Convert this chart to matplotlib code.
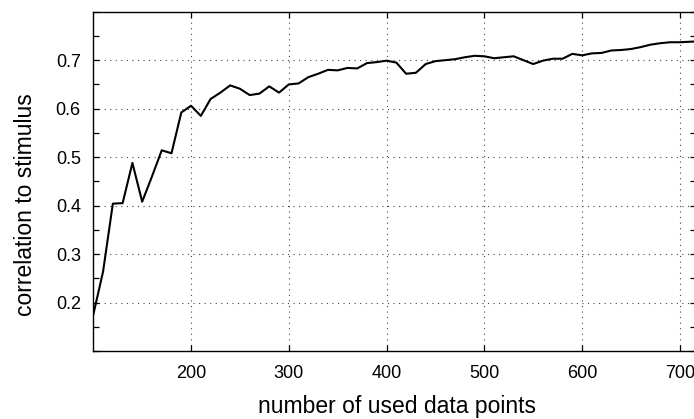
import matplotlib
matplotlib.use("Agg")
import matplotlib.pyplot as plt
from matplotlib.ticker import MultipleLocator, FixedLocator

# number of data points used vs. correlation with the stimulus
n_points = [100, 110, 120, 130, 140, 150, 160, 170, 180, 190,
            200, 210, 220, 230, 240, 250, 260, 270, 280, 290,
            300, 310, 320, 330, 340, 350, 360, 370, 380, 390,
            400, 410, 420, 430, 440, 450, 460, 470, 480, 490,
            500, 510, 520, 530, 540, 550, 560, 570, 580, 590,
            600, 610, 620, 630, 640, 650, 660, 670, 680, 690,
            700, 710, 720]
correlation = [0.175, 0.264, 0.404, 0.405, 0.488, 0.408, 0.460, 0.514, 0.508, 0.592,
               0.606, 0.585, 0.620, 0.633, 0.648, 0.641, 0.628, 0.631, 0.646, 0.633,
               0.650, 0.652, 0.665, 0.672, 0.680, 0.679, 0.684, 0.683, 0.694, 0.696,
               0.699, 0.695, 0.672, 0.674, 0.692, 0.698, 0.700, 0.702, 0.706, 0.709,
               0.708, 0.704, 0.706, 0.708, 0.700, 0.692, 0.699, 0.703, 0.703, 0.713,
               0.710, 0.714, 0.715, 0.720, 0.721, 0.723, 0.727, 0.732, 0.735, 0.737,
               0.737, 0.738, 0.739]

x_ticks = [200, 300, 400, 500, 600, 700]
y_ticks = [0.2, 0.3, 0.4, 0.5, 0.6, 0.7]

plt.rcParams['font.family'] = ['Liberation Sans', 'DejaVu Sans']

fig = plt.figure(figsize=(6.94, 4.19), dpi=100)
W, H = 694, 419
left, right, top, bottom = 93.3, 695.5, 11.7, 351.0
ax = fig.add_axes([left / W, 1 - bottom / H, (right - left) / W, (bottom - top) / H])

ax.plot(n_points, correlation, color='black', lw=1.5, clip_on=True)

ax.set_xlim(100, 716)
ax.set_ylim(0.1, 0.8)
ax.xaxis.set_major_locator(FixedLocator(x_ticks))
ax.yaxis.set_major_locator(FixedLocator(y_ticks))
ax.yaxis.set_minor_locator(MultipleLocator(0.05))
ax.set_yticklabels([f"{v:.1f}" for v in y_ticks])

ax.tick_params(which='both', direction='in', top=True, right=True,
               length=4, width=0.9, labelsize=13, pad=9)
ax.tick_params(axis='x', pad=10)

ax.grid(True, which='major', color='#444444', lw=0.8, ls=(0, (1, 4)))
for s in ax.spines.values():
    s.set_linewidth(1.0)

ax.set_xlabel("number of used data points", fontsize=16.5)
ax.set_ylabel("correlation to stimulus", fontsize=16.5)
ax.xaxis.set_label_coords(0.504, -0.129, transform=ax.transAxes)
ax.yaxis.set_label_coords((37 - left) / (right - left), 0.432)

fig.savefig("out.png", dpi=100)
